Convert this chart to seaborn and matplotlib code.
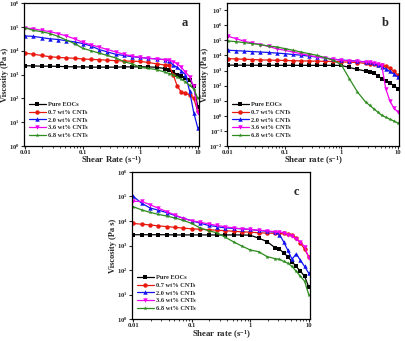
import numpy as np
import pandas as pd
import matplotlib
matplotlib.use("Agg")
import matplotlib.pyplot as plt
import matplotlib.ticker as mticker
import seaborn as sns

# shear rate (s^-1), same sampling in all three panels
shear_rate = [0.01, 0.0139, 0.0193, 0.0268, 0.0373, 0.0518, 0.072, 0.1, 0.139, 0.193,
              0.268, 0.373, 0.518, 0.72, 1.0, 1.39, 1.93, 2.68, 3.16, 3.73,
              4.4, 5.18, 6.1, 7.2, 8.5, 10.0]

samples = ["Pure EOCs", "0.7 wt% CNTs", "2.0 wt% CNTs", "3.6 wt% CNTs", "6.8 wt% CNTs"]
colors = ["#000000", "#e8190f", "#1414f0", "#f000f0", "#2e8b1e"]
markers = ["s", "o", "^", "v", "*"]

# panel a - viscosity (Pa s)
a_pure = [2340, 2290, 2240, 2240, 2190, 2140, 2090, 2090, 2040, 2040, 2040, 2040, 2090,
          2090, 2090, 2090, 2000, 1780, 1580, 1260, 1000, 890, 710, 600, 320, 45]
a_07 = [7900, 7100, 6300, 5600, 5200, 5000, 4800, 4500, 4300, 4200, 4000, 3800, 3700,
        3600, 3550, 3200, 2800, 2500, 2400, 1000, 320, 180, 160, 140, 100, 28]
a_20 = [41700, 39800, 35500, 31600, 29500, 26300, 23400, 20000, 15800, 11200, 8900, 7100, 6300,
        5600, 5200, 4800, 4500, 4200, 3800, 2500, 2000, 1400, 1000, 200, 25, 5.6]
a_36 = [91000, 83000, 72000, 63000, 52500, 41700, 31600, 22400, 17800, 14100, 11200, 8900, 7100,
        6000, 5200, 4800, 4500, 4200, 4000, 3500, 2800, 2000, 1260, 800, 320, 25]
a_68 = [91000, 71000, 63000, 52500, 40000, 28000, 20000, 12600, 10000, 7900, 6300, 5000, 3500,
        2800, 2000, 1800, 1600, 1260, 1100, 1000, 800, 630, 500, 350, 250, 100]

# panel b
b_pure = [2300, 2280, 2260, 2250, 2240, 2240, 2230, 2230, 2220, 2220, 2220, 2220, 2220,
          2220, 2200, 1600, 1200, 930, 800, 700, 450, 290, 200, 150, 100, 63]
b_07 = [6200, 5900, 5600, 5400, 5100, 5000, 4800, 4700, 4500, 4400, 4300, 4200, 4100,
        4000, 3800, 3600, 3400, 3000, 2900, 2700, 2500, 2200, 1900, 1400, 900, 500]
b_20 = [22400, 20900, 19500, 18200, 17000, 15800, 14500, 13200, 11700, 10500, 9100, 7900, 6800,
        5800, 5000, 4600, 4200, 3800, 3600, 3200, 2400, 1800, 1260, 900, 600, 380]
b_36 = [186000, 132000, 87000, 68000, 52500, 40000, 28000, 22400, 17000, 13200, 10200, 7900, 6900,
        5600, 4800, 4400, 4200, 3700, 3500, 3200, 2800, 2200, 63, 10, 3.2, 1.8]
b_68 = [91000, 83000, 71000, 62000, 52500, 42700, 37000, 28800, 22400, 17000, 13200, 10200, 7200,
        4800, 2450, 290, 38, 8.3, 5.0, 3.0, 1.8, 1.07, 0.8, 0.59, 0.45, 0.33]

# panel c
c_pure = [2750, 2750, 2750, 2750, 2750, 2700, 2700, 2700, 2700, 2700, 2700, 2700, 2700,
          2700, 2630, 2000, 1450, 800, 710, 500, 350, 220, 140, 90, 56, 20]
c_07 = [7900, 7400, 6900, 6300, 5900, 5500, 5100, 4800, 4600, 4400, 4200, 4000, 3800,
        3600, 3500, 3300, 3200, 3160, 3160, 3100, 2950, 2750, 2000, 1260, 710, 350]
c_20 = [100000, 52500, 33900, 27500, 21900, 16600, 12900, 10200, 8100, 6600, 5900, 5200, 5000,
        4800, 4500, 4100, 3800, 3500, 2800, 1400, 630, 275, 460, 250, 140, 74]
c_36 = [63000, 63000, 45700, 33100, 24000, 17400, 12600, 10200, 8900, 7600, 6600, 5800, 5200,
        4800, 4500, 4200, 4000, 3600, 3500, 3300, 2800, 2400, 1800, 1400, 900, 320]
c_68 = [38000, 28200, 22400, 18600, 15800, 13200, 10500, 7900, 5200, 4000, 3300, 2200, 1400,
        950, 660, 560, 355, 290, 275, 224, 190, 140, 90, 56, 35, 10]

sns.set_style("ticks")
plt.rcParams["font.family"] = ["Liberation Serif", "DejaVu Serif"]
plt.rcParams["font.weight"] = "bold"
plt.rcParams["mathtext.fontset"] = "custom"
plt.rcParams["mathtext.rm"] = "Liberation Serif:bold"
plt.rcParams["mathtext.bf"] = "Liberation Serif:bold"
plt.rcParams["mathtext.it"] = "Liberation Serif:bold"


def make_df(series):
    rows = []
    for name, vals in zip(samples, series):
        for x, v in zip(shear_rate, vals):
            rows.append((x, v, name))
    return pd.DataFrame(rows, columns=["rate", "visc", "sample"])


def pow_fmt(v, pos):
    return r"$\mathbf{10^{%d}}$" % int(round(np.log10(v)))


def draw(ax, series, letter, xlab, ylim, lower_exp, upper_exp):
    df = make_df(series)
    sns.lineplot(data=df, x="rate", y="visc", hue="sample", style="sample",
                 palette=colors, markers=markers, dashes=False, ax=ax,
                 linewidth=0.9, markersize=3.2, markeredgewidth=0, sort=True)
    ax.set_xscale("log")
    ax.set_yscale("log")
    ax.set_xlim(0.0095, 10.6)
    ax.set_ylim(*ylim)
    ax.set_xticks([0.01, 0.1, 1, 10])
    ax.set_xticklabels(["0.01", "0.1", "1", "10"])
    ax.xaxis.set_minor_locator(mticker.LogLocator(base=10, subs=np.arange(2, 10), numticks=20))
    ax.xaxis.set_minor_formatter(mticker.NullFormatter())
    ax.set_yticks([10.0 ** k for k in range(lower_exp, upper_exp + 1)])
    ax.yaxis.set_major_formatter(mticker.FuncFormatter(pow_fmt))
    ax.yaxis.set_minor_locator(mticker.NullLocator())
    ax.tick_params(axis="both", which="major", direction="out", length=2, width=0.8,
                   labelsize=4.8, pad=0.8)
    ax.tick_params(axis="both", which="minor", direction="out", length=1.3, width=0.6)
    for s in ax.spines.values():
        s.set_linewidth(0.9)
        s.set_color("black")
    ax.set_xlabel(xlab, fontsize=6.3, fontweight="bold", labelpad=0)
    ax.set_ylabel("Viscosity (Pa s)", fontsize=6, fontweight="bold", labelpad=0)
    ax.text(0.92, 0.86, letter, transform=ax.transAxes, fontsize=9, fontweight="bold",
            ha="center", va="center")
    ax.legend(loc="lower left", bbox_to_anchor=(0.0, 0.02), frameon=False, fontsize=4.6,
              handlelength=2.6, labelspacing=0.35, handletextpad=0.4, borderpad=0.3)


fig = plt.figure(figsize=(4.05, 3.41), dpi=100)
ax_a = fig.add_axes([0.059, 0.572, 0.433, 0.419])
ax_b = fig.add_axes([0.56, 0.572, 0.426, 0.419])
ax_c = fig.add_axes([0.326, 0.064, 0.44, 0.432])

draw(ax_a, [a_pure, a_07, a_20, a_36, a_68], "a", "Shear Rate (s$^{-1}$)", (1, 1e6), 0, 6)
draw(ax_b, [b_pure, b_07, b_20, b_36, b_68], "b", "Shear rate (s$^{-1}$)", (1e-2, 3e7), -2, 7)
draw(ax_c, [c_pure, c_07, c_20, c_36, c_68], "c", "Shear rate (s$^{-1}$)", (1, 1e6), 0, 6)

fig.savefig("out.png", dpi=100)
